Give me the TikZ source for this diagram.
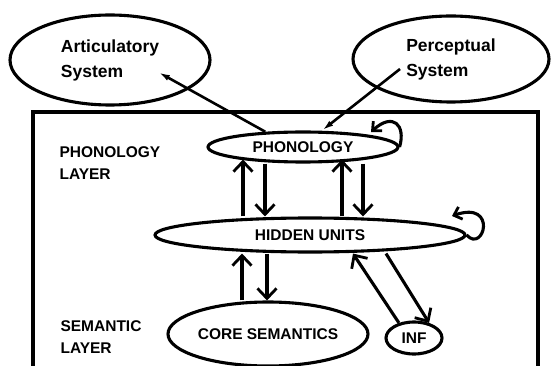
\documentclass[tikz,border=0pt]{standalone}
\usepackage{fontspec}
\setmainfont{Liberation Sans}
\usetikzlibrary{shapes.geometric,arrows.meta}
\begin{document}
\begin{tikzpicture}[x=1pt,y=-1pt,
  lw/.style={line width=3.1pt},
  ell/.style={draw,ellipse,lw,inner sep=0pt},
  capfont/.style={font=\bfseries\fontsize{15.5}{22.5}\selectfont},
  lowfont/.style={font=\bfseries\fontsize{17.5}{25}\selectfont},
  arr/.style={lw,-{Straight Barb[length=10pt,width=19pt,line width=2.8pt]}},
  looparr/.style={lw,-{Straight Barb[length=7pt,width=13pt,line width=2.8pt]}},
  thinarr/.style={line width=2.6pt,-{Latex[length=12pt,width=6pt]}},
]
\useasboundingbox (0,0) rectangle (551,366);

% outer box (bottom edge not shown)
\draw[line width=3.3pt] (33,366) -- (33,112) -- (538,112) -- (538,366);

% top ellipses
\node[ell,lowfont,align=left,minimum width=200pt,minimum height=90pt] (art) at (110,60) {Articulatory\\System};
\node[ell,lowfont,align=left,minimum width=196pt,minimum height=86pt] (per) at (451,59) {Perceptual\\System};

% inner ellipses
\node[ell,capfont,minimum width=190pt,minimum height=30pt] (phon) at (303,147) {PHONOLOGY};
\node[ell,capfont,minimum width=310pt,minimum height=34pt] (hid) at (310,235) {HIDDEN UNITS};
\node[ell,capfont,minimum width=200pt,minimum height=64pt] (core) at (268,334) {CORE SEMANTICS};
\node[ell,capfont,minimum width=56pt,minimum height=32pt,inner sep=0pt] (inf) at (414,338) {INF};

% layer labels
\node[capfont,align=left,anchor=west] (phonlayer) at (56,163) {PHONOLOGY\\LAYER};
\node[capfont,align=left,anchor=west] (semlayer) at (57,337) {SEMANTIC\\LAYER};

% connections to outer systems
\coordinate (artTip) at (158,72);
\coordinate (perStart) at (400,69);
\draw[thinarr] (phon.158) -- (artTip);
\draw[thinarr] (perStart) -- (phon.41);

% phonology <-> hidden units
\draw[arr] ([xshift=-67pt]hid.north) -- ([xshift=-60pt,yshift=4pt]phon.south);
\draw[arr] ([xshift=-38pt]phon.south) -- ([xshift=-45pt]hid.north);
\draw[arr] ([xshift=32pt]hid.north) -- ([xshift=39pt,yshift=4pt]phon.south);
\draw[arr] ([xshift=60pt]phon.south) -- ([xshift=53pt]hid.north);

% hidden units <-> core semantics
\draw[arr] ([xshift=-26pt]core.north) -- ([xshift=-68pt]hid.south);
\draw[arr] ([xshift=-43pt]hid.south) -- ([xshift=-1pt]core.north);

% hidden units <-> INF
\draw[arr] (inf.135) -- ([xshift=43pt]hid.south);
\draw[arr] ([xshift=76pt]hid.south) -- (inf.45);

% self loops
\draw[looparr] (phon.east) .. controls (406,125) and (393,112) .. (371,132);
\draw[looparr] (hid.east) .. controls (484,254) and (498,200) .. (452,216);
\end{tikzpicture}
\end{document}
